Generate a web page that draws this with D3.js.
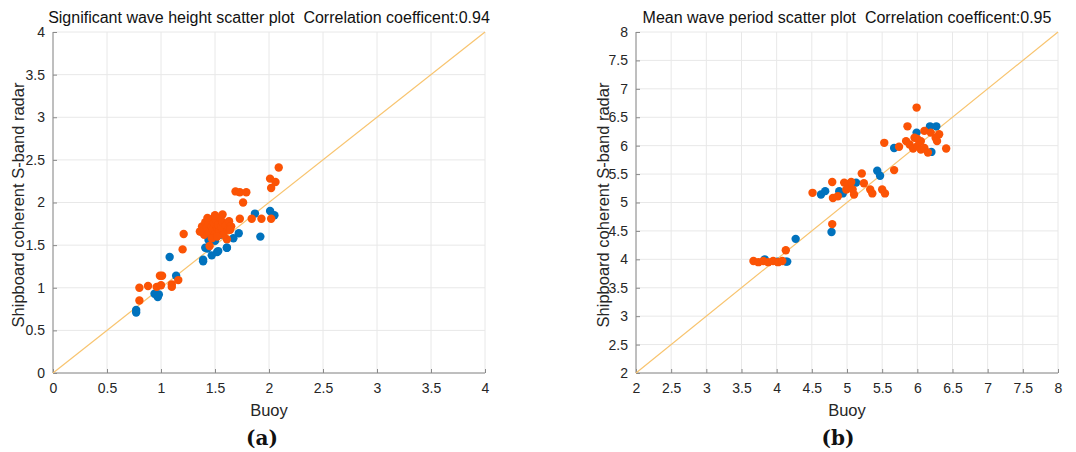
<!DOCTYPE html>
<html>
<head>
<meta charset="utf-8">
<script src="https://d3js.org/d3.v7.min.js"></script>
<style>
  body { margin: 0; background: #fff; }
  svg { font-family: "Liberation Sans", Arial, sans-serif; }
  .grid line { stroke: #e8e8e8; stroke-width: 1; }
  .axis path, .axis line { stroke: #8a8a8a; }
  .axis text { fill: #262626; font-size: 14px; }
  .title { fill: #111; font-size: 16px; white-space: pre; }
  .label { fill: #262626; font-size: 16.5px; }
  .caption { fill: #111; font-family: "DejaVu Serif", "Liberation Serif", serif; font-weight: bold; font-size: 20px; }
</style>
</head>
<body>
<svg width="1076" height="452"></svg>
<script>
// **** Data ****

// (a) significant wave height, m
var hsTicks = [0, 0.5, 1, 1.5, 2, 2.5, 3, 3.5, 4];
var hsBlueX = [0.77, 0.77, 0.94, 0.97, 0.98, 1.08, 1.14, 1.39, 1.41, 1.43, 1.44, 1.47, 1.52, 1.53, 1.61, 1.61, 1.67, 1.72, 1.92, 1.87, 2.01, 2.05, 1.46, 1.50, 1.55, 1.39];
var hsBlueY = [0.74, 0.71, 0.93, 0.89, 0.92, 1.36, 1.14, 1.31, 1.47, 1.46, 1.56, 1.38, 1.42, 1.43, 1.47, 1.47, 1.58, 1.64, 1.60, 1.87, 1.90, 1.85, 1.60, 1.55, 1.62, 1.33];
var hsOrangeX = [0.80, 0.80, 0.88, 0.96, 0.99, 1.01, 1.00, 1.10, 1.10, 1.16, 1.20, 1.21, 1.45, 1.61, 1.57, 1.69, 1.73, 1.79, 1.76, 1.73, 1.84, 1.93, 2.02, 2.02, 2.01, 2.06, 2.09,
                 1.37, 1.38, 1.40, 1.41, 1.42, 1.44, 1.45, 1.46, 1.47, 1.48, 1.49, 1.50, 1.51, 1.52, 1.53, 1.54, 1.55, 1.56, 1.57, 1.58, 1.60, 1.62, 1.63, 1.47, 1.52, 1.43, 1.50, 1.65, 1.36, 1.64];
var hsOrangeY = [0.85, 1.00, 1.02, 1.01, 1.14, 1.14, 1.03, 1.01, 1.04, 1.09, 1.45, 1.63, 1.49, 1.57, 1.86, 2.13, 2.12, 2.12, 2.00, 1.81, 1.81, 1.81, 1.81, 2.17, 2.28, 2.24, 2.41,
                 1.66, 1.72, 1.62, 1.77, 1.70, 1.75, 1.65, 1.80, 1.72, 1.68, 1.76, 1.63, 1.79, 1.70, 1.74, 1.66, 1.82, 1.71, 1.77, 1.62, 1.73, 1.68, 1.78, 1.58, 1.60, 1.82, 1.85, 1.72, 1.66, 1.68];

// (b) mean wave period, s
var tmTicks = [2, 2.5, 3, 3.5, 4, 4.5, 5, 5.5, 6, 6.5, 7, 7.5, 8];
var tmBlueX = [3.83, 4.01, 4.13, 4.15, 4.27, 4.63, 4.69, 4.78, 4.89, 4.94, 5.13, 5.43, 5.47, 5.67, 5.99, 6.18, 6.27, 6.20];
var tmBlueY = [4.00, 3.96, 3.96, 3.96, 4.36, 5.14, 5.20, 4.48, 5.20, 5.16, 5.35, 5.56, 5.47, 5.96, 6.23, 6.34, 6.34, 5.89];
var tmOrangeX = [3.67, 3.74, 3.81, 3.88, 3.95, 4.02, 4.08, 4.13, 4.51, 4.79, 4.79, 4.80, 4.87, 4.96, 5.01, 5.06, 4.99, 5.08, 5.10, 5.21, 5.24, 5.33, 5.36, 5.50, 5.54, 5.67,
                 5.99, 5.86, 6.10, 6.00, 6.05, 5.96, 6.31, 6.26, 6.28, 5.53, 5.74, 5.84, 5.89, 5.94, 6.00, 6.05, 6.10, 6.15, 6.41, 6.19];
var tmOrangeY = [3.97, 3.95, 3.97, 3.95, 3.97, 3.95, 3.97, 4.16, 5.17, 5.36, 4.62, 5.08, 5.11, 5.35, 5.32, 5.36, 5.23, 5.23, 5.14, 5.51, 5.34, 5.23, 5.16, 5.23, 5.16, 5.57,
                 6.67, 6.34, 6.26, 6.12, 6.08, 6.14, 6.20, 6.14, 6.08, 6.05, 5.98, 6.08, 6.02, 5.95, 5.99, 5.93, 5.96, 5.88, 5.95, 6.23];

var blue = '#0072bd';
var orange = '#fb5305';

// **** Drawing ****

var svg = d3.select('svg');

function drawPanel(opts) {
    var xScale = d3.scaleLinear().domain(opts.domain).range([opts.left, opts.right]);
    var yScale = d3.scaleLinear().domain(opts.domain).range([373, 32]);
    var g = svg.append('g');

    // grid
    var grid = g.append('g').attr('class', 'grid');
    grid.selectAll('line.v').data(opts.ticks).enter().append('line')
        .attr('x1', d => xScale(d)).attr('x2', d => xScale(d))
        .attr('y1', yScale.range()[0]).attr('y2', yScale.range()[1]);
    grid.selectAll('line.h').data(opts.ticks).enter().append('line')
        .attr('x1', opts.left).attr('x2', opts.right)
        .attr('y1', d => yScale(d)).attr('y2', d => yScale(d));

    // axes, ticks point inward like matlab
    g.append('g').attr('class', 'axis')
        .attr('transform', 'translate(0,' + yScale.range()[0] + ')')
        .call(d3.axisBottom(xScale).tickValues(opts.ticks).tickSize(-4).tickPadding(10).tickFormat(d => d))
        .call(a => a.select('.domain').attr('d', 'M' + opts.left + ',0H' + opts.right));
    g.append('g').attr('class', 'axis')
        .attr('transform', 'translate(' + opts.left + ',0)')
        .call(d3.axisLeft(yScale).tickValues(opts.ticks).tickSize(-4).tickPadding(8).tickFormat(d => d))
        .call(a => a.select('.domain').attr('d', 'M0,373V32'));

    // 1:1 line
    g.append('line')
        .attr('x1', xScale(opts.domain[0])).attr('y1', yScale(opts.domain[0]))
        .attr('x2', xScale(opts.domain[1])).attr('y2', yScale(opts.domain[1]))
        .attr('stroke', '#f8c46f').attr('stroke-width', 1.2);

    // points: blue first, orange on top
    g.selectAll('circle.b').data(opts.bx).enter().append('circle')
        .attr('cx', (d, i) => xScale(d)).attr('cy', (d, i) => yScale(opts.by[i]))
        .attr('r', 4.2).attr('fill', blue);
    g.selectAll('circle.o').data(opts.ox).enter().append('circle')
        .attr('cx', (d, i) => xScale(d)).attr('cy', (d, i) => yScale(opts.oy[i]))
        .attr('r', 4.2).attr('fill', orange);

    var mid = (opts.left + opts.right) / 2;
    svg.append('text').attr('class', 'title')
        .attr('x', mid).attr('y', 23).attr('text-anchor', 'middle')
        .text(opts.title);
    svg.append('text').attr('class', 'label')
        .attr('x', mid).attr('y', 416).attr('text-anchor', 'middle')
        .text('Buoy');
    svg.append('text').attr('class', 'label')
        .attr('transform', 'translate(' + opts.ylabX + ',205) rotate(-90)')
        .attr('text-anchor', 'middle')
        .text('Shipboard coherent S-band radar');
    svg.append('text').attr('class', 'caption')
        .attr('x', opts.capX).attr('y', 445).attr('text-anchor', 'middle')
        .text(opts.caption);
}

drawPanel({
    domain: [0, 4], ticks: hsTicks, left: 53, right: 485,
    bx: hsBlueX, by: hsBlueY, ox: hsOrangeX, oy: hsOrangeY,
    title: 'Significant wave height scatter plot  Correlation coefficent:0.94',
    ylabX: 24, capX: 262, caption: '(a)'
});

drawPanel({
    domain: [2, 8], ticks: tmTicks, left: 636, right: 1058,
    bx: tmBlueX, by: tmBlueY, ox: tmOrangeX, oy: tmOrangeY,
    title: 'Mean wave period scatter plot  Correlation coefficent:0.95',
    ylabX: 609, capX: 838, caption: '(b)'
});
</script>
</body>
</html>
